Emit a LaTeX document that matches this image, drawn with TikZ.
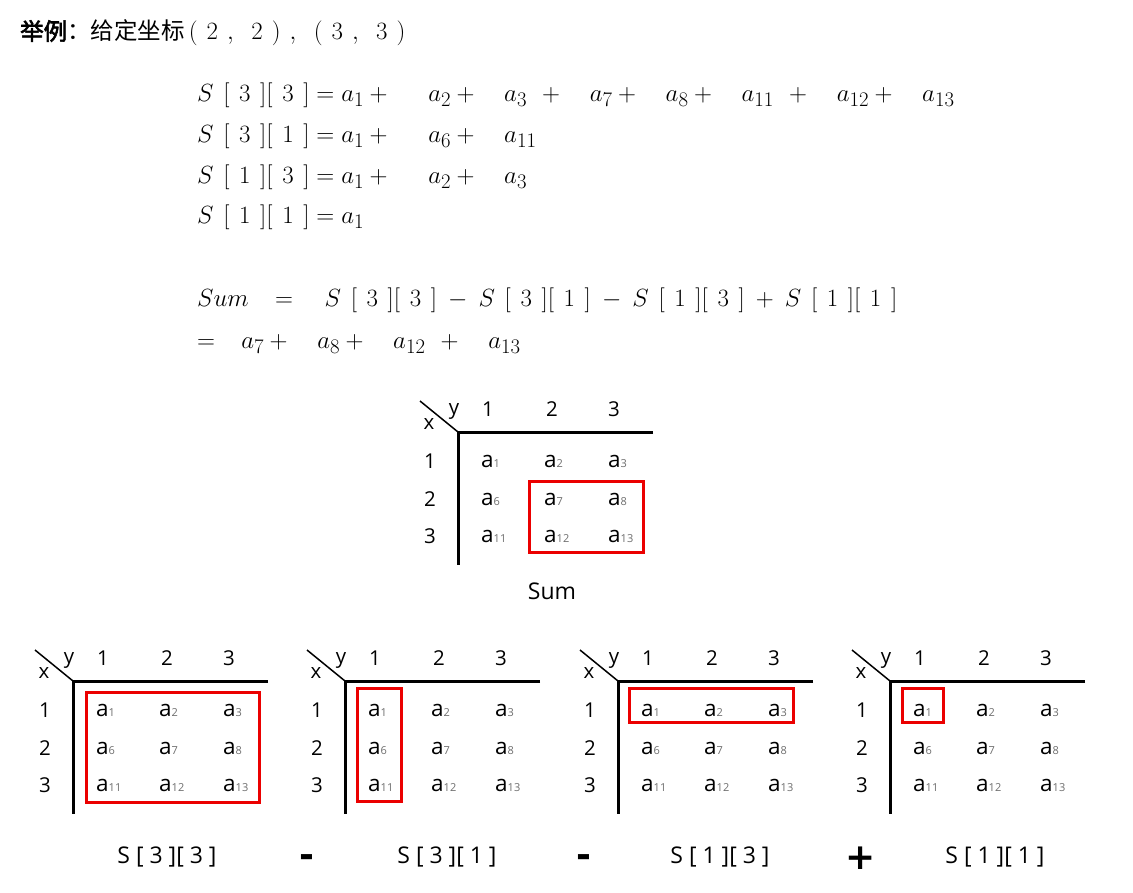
\documentclass[tikz,border=0pt]{standalone}
\usepackage{fontspec}
\setsansfont{Open Sans}
\newfontfamily\cjk{Noto Sans CJK SC}
\newfontfamily\cjkb{Noto Sans CJK SC}[FakeBold=2.5]
\newfontfamily\tbl{Open Sans}
\newfontfamily\opfont{DejaVu Sans}
\definecolor{boxred}{RGB}{235,0,0}
\definecolor{subgray}{RGB}{110,110,110}
\newcommand{\cell}[2]{{\fontsize{22.5}{22}\selectfont #1}{\fontsize{11}{11}\selectfont\color{subgray}#2}}
\newcommand{\pl}{+\mkern3.5mu}
\newcommand{\plx}{+\hspace{11pt}\mkern3.5mu}
\newcommand{\mn}{\mkern4mu-\mkern4mu}
\newcommand{\ps}{\mkern4mu+\mkern4mu}
\tikzset{
  eq/.style={inner sep=0pt, font=\fontsize{32}{36}\selectfont, anchor=base west},
  axisline/.style={line width=3pt},
  diagline/.style={line width=1.5pt},
  num/.style={inner sep=0pt, font=\tbl\fontsize{20.5}{20}\selectfont, anchor=base},
  cellt/.style={inner sep=0pt, font=\tbl, anchor=base west},
  redbox/.style={draw=boxred, line width=3pt},
  caption/.style={inner sep=0pt, font=\tbl\fontsize{23}{23}\selectfont, anchor=base},
  opsign/.style={inner sep=0pt, font=\opfont\bfseries\fontsize{36}{36}\selectfont, anchor=center},
  pics/valtable/.style={code={
    \coordinate (-o) at (0,0);
    \coordinate (-d) at (-38,-31);
    \coordinate (-h) at (195,0);
    \coordinate (-v) at (0,133);
    \draw[diagline] (-d) -- (-o);
    \draw[axisline] (-h) -- (-o) -- (-v);
    \node[num] (-y) at (-4,-18) {y};
    \node[num] (-x) at (-29,-3) {x};
    \node[num] (-c1) at (30,-16) {1};
    \node[num] (-c2) at (94,-16) {2};
    \node[num] (-c3) at (156,-16) {3};
    \node[num] (-r1) at (-28,36) {1};
    \node[num] (-r2) at (-28,74) {2};
    \node[num] (-r3) at (-28,111) {3};
    \node[cellt] (-a1) at (23,35) {\cell{a}{1}};
    \node[cellt] (-a2) at (86,35) {\cell{a}{2}};
    \node[cellt] (-a3) at (150,35) {\cell{a}{3}};
    \node[cellt] (-a6) at (23,73) {\cell{a}{6}};
    \node[cellt] (-a7) at (86,73) {\cell{a}{7}};
    \node[cellt] (-a8) at (150,73) {\cell{a}{8}};
    \node[cellt] (-a11) at (23,110) {\cell{a}{11}};
    \node[cellt] (-a12) at (86,110) {\cell{a}{12}};
    \node[cellt] (-a13) at (150,110) {\cell{a}{13}};
  }}
}
\begin{document}
\begin{tikzpicture}[x=1pt,y=-1pt]
\useasboundingbox (0,0) rectangle (1133,893);
\fill[white] (0,0) rectangle (1133,893);

% heading
\node[inner sep=0pt, anchor=base west] (head) at (20,40)
  {{\cjkb\fontsize{23.5}{24}\selectfont 举例}{\cjk\fontsize{23.5}{24}\selectfont ：给定坐标}\fontsize{30}{30}\selectfont$\mkern3mu(\ 2\ ,\mkern3mu\ 2\ )\ ,\mkern3mu\ (\ 3\ ,\mkern3mu\ 3\ )$};

% equations
\node[eq] (l1) at (197,102) {$S\ [\ 3\ ][\ 3\ ] = a_1 \plx\ \ a_2 \pl\ \ a_3\ \pl\ \ a_7 \pl\ \ a_8 \pl\ \ a_{11}\ \pl\ \ a_{12} \pl\ \ a_{13}$};
\node[eq] (l2) at (197,143) {$S\ [\ 3\ ][\ 1\ ] = a_1 \plx\ \ a_6 \pl\ \ a_{11}$};
\node[eq] (l3) at (197,184) {$S\ [\ 1\ ][\ 3\ ] = a_1 \plx\ \ a_2 \pl\ \ a_3$};
\node[eq] (l4) at (197,224) {$S\ [\ 1\ ][\ 1\ ] = a_1$};
\node[eq] (s1) at (197,307) {$Sum\ \ =\ \ \mkern4mu S\ [\ 3\ ][\ 3\ ]\mn S\ [\ 3\ ][\ 1\ ]\mn S\ [\ 1\ ][\ 3\ ]\ps S\ [\ 1\ ][\ 1\ ]$};
\node[eq] (s2) at (197,349) {$=\ \ a_7\pl\ \ a_8\pl\ \ a_{12}\ \pl\ \ a_{13}$};

% Sum table
\pic (ts) at (458,432) {valtable};
\draw[redbox] (529,481) rectangle (643,552);
\node[caption] (tsl) at (552,599) {Sum};

% bottom tables
\pic (t1) at (73,681) {valtable};
\pic (t2) at (345,681) {valtable};
\pic (t3) at (618,681) {valtable};
\pic (t4) at (890,681) {valtable};
\draw[redbox] (86,692) rectangle (259,802);
\draw[redbox] (357,688) rectangle (401,801);
\draw[redbox] (629,688) rectangle (793,722);
\draw[redbox] (902,688) rectangle (943,722);

\node[caption] (c1) at (167,863) {S [ 3 ][ 3 ]};
\node[caption] (c2) at (447,863) {S [ 3 ][ 1 ]};
\node[caption] (c3) at (720,863) {S [ 1 ][ 3 ]};
\node[caption] (c4) at (995,863) {S [ 1 ][ 1 ]};
\node[opsign] (m1) at (307,861) {-};
\node[opsign] (m2) at (584,861) {-};
\node[opsign] (p1) at (861,858) {+};
\end{tikzpicture}
\end{document}
